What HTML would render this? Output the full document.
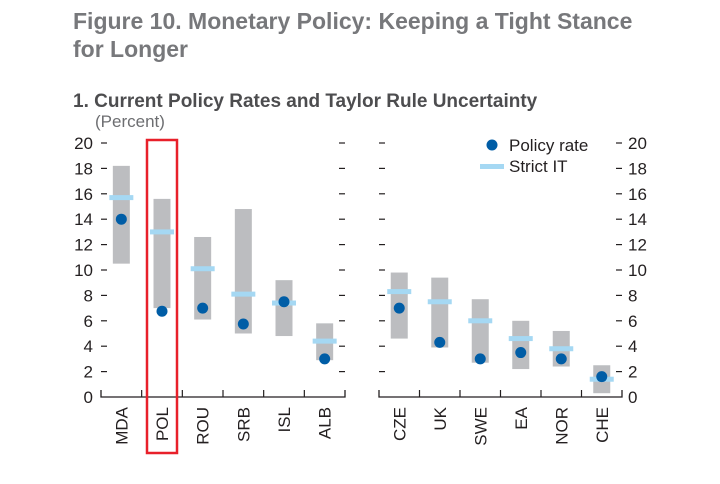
<!DOCTYPE html>
<html><head><meta charset="utf-8"><style>
body{margin:0;background:#fff;width:720px;height:479px;overflow:hidden;font-family:"Liberation Sans",sans-serif}
</style></head><body>
<svg width="720" height="479" id="c" font-family="Liberation Sans, sans-serif">
<text x="73" y="29" font-size="23" font-weight="bold" fill="#77787b">Figure 10. Monetary Policy: Keeping a Tight Stance</text>
<text x="73" y="57" font-size="23" font-weight="bold" fill="#77787b">for Longer</text>
<text x="73" y="107" font-size="19" font-weight="bold" fill="#4d4d4f">1. Current Policy Rates and Taylor Rule Uncertainty</text>
<text x="95" y="127" font-size="17" fill="#6d6e71">(Percent)</text>
<g id="g"></g>
</svg>
<script>
const cats1=["MDA","POL","ROU","SRB","ISL","ALB"];
const cats2=["CZE","UK","SWE","EA","NOR","CHE"];
const lows=[10.5,7,6.1,5,4.8,2.9,4.6,3.9,2.7,2.2,2.4,0.3];
const highs=[18.2,15.6,12.6,14.8,9.2,5.8,9.8,9.4,7.7,6,5.2,2.5];
const strictIT=[15.7,13,10.1,8.1,7.4,4.4,8.3,7.5,6,4.6,3.8,1.4];
const policy=[14,6.75,7,5.75,7.5,3,7,4.3,3,3.5,3,1.6];
const ticks=[0,2,4,6,8,10,12,14,16,18,20];
const NS="http://www.w3.org/2000/svg";
const g=document.getElementById("g");
function y(v){return 397-v*12.7;}
function mk(t,a,p){const e=document.createElementNS(NS,t);for(const k in a)e.setAttribute(k,a[k]);(p||g).appendChild(e);return e;}
const panels=[{x0:101,x1:345,cats:cats1,off:0},{x0:379,x1:622,cats:cats2,off:6}];
const tc="#231f20";
panels.forEach((P,pi)=>{
  const w=(P.x1-P.x0)/P.cats.length;
  P.cats.forEach((c,i)=>{
    const k=P.off+i,cx=P.x0+w*(i+0.5);
    let r=mk("rect",{x:cx-8.5,y:y(highs[k]),width:17,height:y(lows[k])-y(highs[k]),fill:"#bcbdc0"});
    
    
    let l=mk("rect",{x:cx-12,y:y(strictIT[k])-2.5,width:24,height:5,fill:"#a5d8f3"});
    
    
    let d=mk("circle",{cx:cx,cy:y(policy[k]),r:5.5,fill:"#005da6"});
    
    
    let t=mk("text",{x:0,y:0,transform:`translate(${cx+6},407) rotate(-90)`,"font-size":"17","text-anchor":"end",fill:tc});
    t.textContent=c;
    
    
    if(i>0){mk("line",{x1:P.x0+w*i,x2:P.x0+w*i,y1:397,y2:390,stroke:tc,"stroke-width":1.2});}
  });
  let ax=mk("path",{d:`M${P.x0},390V397H${P.x1}V390`,fill:"none",stroke:tc,"stroke-width":1.3});
  
  
  ticks.forEach(v=>{if(v>0){mk("line",{x1:P.x0,x2:P.x0+6,y1:y(v),y2:y(v),stroke:tc,"stroke-width":1.2});mk("line",{x1:P.x1-6,x2:P.x1,y1:y(v),y2:y(v),stroke:tc,"stroke-width":1.2});}});
});
ticks.forEach(v=>{
  let a=mk("text",{x:93,y:y(v)+6,"font-size":"17","text-anchor":"end",fill:tc});a.textContent=v;
  
  
  let b=mk("text",{x:628,y:y(v)+6,"font-size":"17",fill:tc});b.textContent=v;
  
  
});
let hl=mk("rect",{x:147,y:140,width:30,height:313,fill:"none",stroke:"#e8202a","stroke-width":2.5});


let lg=mk("g",{});


mk("circle",{cx:492,cy:145,r:5.5,fill:"#005da6"},lg);
let t1=mk("text",{x:509,y:151,"font-size":"17",fill:tc},lg);t1.textContent="Policy rate";


mk("rect",{x:480,y:164,width:24,height:5,fill:"#a5d8f3"},lg);
let t2=mk("text",{x:509,y:172,"font-size":"17",fill:tc},lg);t2.textContent="Strict IT";


</script>
</body></html>
